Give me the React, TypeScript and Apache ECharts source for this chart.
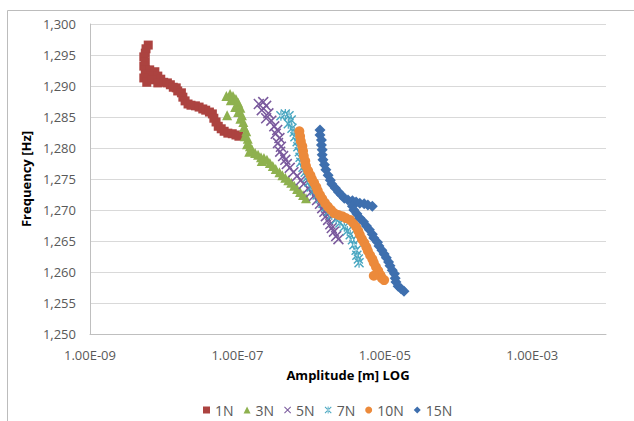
import React, { useEffect, useRef } from 'react';
import * as echarts from 'echarts';

const seriesNames = ['1N', '3N', '5N', '7N', '10N', '15N'];
const seriesColors = ['#AC4340', '#8EB14F', '#7A5A9D', '#48A6C0', '#EC8A3B', '#3E6FAE'];

// Amplitude values are stored as log10(amplitude [m]); frequency in Hz.
const amp1N = [-8.21,-8.24,-8.25,-8.27,-8.25,-8.27,-8.25,-8.19,-8.12,-8.24,-8.17,-8.08,-8.27,-8.23,-8.16,-8.04,-8.08,-8.00,-7.95,-7.91,-7.87,-7.83,-7.81,-7.76,-7.74,-7.71,-7.67,-7.63,-7.57,-7.52,-7.47,-7.43,-7.38,-7.34,-7.32,-7.29,-7.26,-7.22,-7.18,-7.13,-7.07,-7.02,-6.98];
const freq1N = [1.2966,1.2960,1.2953,1.2947,1.2939,1.2932,1.2926,1.2926,1.2923,1.2919,1.2916,1.2916,1.2913,1.2906,1.2910,1.2911,1.2905,1.2906,1.2905,1.2902,1.2898,1.2897,1.2892,1.2889,1.2882,1.2876,1.2871,1.2869,1.2868,1.2866,1.2863,1.2861,1.2858,1.2855,1.2848,1.2842,1.2835,1.2831,1.2827,1.2824,1.2823,1.2821,1.2819];

const amp3N = [-7.15,-7.10,-7.06,-7.02,-7.09,-6.99,-7.03,-6.96,-6.99,-6.94,-6.96,-6.92,-6.91,-6.88,-6.90,-6.86,-6.87,-6.83,-6.80,-6.84,-6.76,-6.72,-6.68,-6.64,-6.67,-6.60,-6.56,-6.52,-6.48,-6.43,-6.39,-6.35,-6.31,-6.27,-6.23,-6.19,-6.15,-6.11,-6.07,-7.14];
const freq3N = [1.2884,1.2887,1.2884,1.2879,1.2877,1.2873,1.2866,1.2865,1.2858,1.2853,1.2847,1.2842,1.2834,1.2827,1.2819,1.2815,1.2806,1.2803,1.2797,1.2794,1.2792,1.2789,1.2785,1.2784,1.2779,1.2781,1.2776,1.2771,1.2766,1.2761,1.2756,1.2752,1.2748,1.2744,1.2739,1.2734,1.2729,1.2724,1.2719,1.2853];

const amp5N = [-6.71,-6.65,-6.61,-6.67,-6.58,-6.61,-6.54,-6.50,-6.46,-6.48,-6.43,-6.45,-6.41,-6.42,-6.38,-6.35,-6.33,-6.29,-6.24,-6.19,-6.14,-6.10,-6.04,-6.00,-5.96,-5.92,-5.88,-5.85,-5.82,-5.80,-5.77,-5.74,-5.72,-5.69,-5.66,-5.63];
const freq5N = [1.2871,1.2874,1.2868,1.2861,1.2856,1.2848,1.2844,1.2835,1.2829,1.2823,1.2816,1.2808,1.2802,1.2794,1.2787,1.2781,1.2774,1.2768,1.2761,1.2755,1.2748,1.2742,1.2735,1.2729,1.2723,1.2716,1.2710,1.2703,1.2697,1.2690,1.2684,1.2677,1.2671,1.2665,1.2658,1.2653];

const amp7N = [-6.41,-6.35,-6.30,-6.27,-6.31,-6.26,-6.23,-6.22,-6.19,-6.18,-6.16,-6.15,-6.14,-6.11,-6.08,-6.05,-6.03,-6.00,-5.96,-5.92,-5.88,-5.84,-5.80,-5.76,-5.72,-5.66,-5.61,-5.55,-5.51,-5.47,-5.44,-5.42,-5.39,-5.38,-5.36,-5.35];
const freq7N = [1.2852,1.2855,1.2852,1.2845,1.2839,1.2832,1.2826,1.2818,1.2810,1.2802,1.2794,1.2785,1.2777,1.2769,1.2761,1.2753,1.2745,1.2737,1.2731,1.2724,1.2718,1.2711,1.2705,1.2698,1.2692,1.2685,1.2679,1.2673,1.2666,1.2660,1.2652,1.2644,1.2635,1.2627,1.2621,1.2615];

const amp10N = [-6.16,-6.15,-6.14,-6.12,-6.11,-6.10,-6.08,-6.07,-6.04,-6.01,-5.99,-5.96,-5.93,-5.91,-5.88,-5.85,-5.81,-5.77,-5.73,-5.69,-5.63,-5.58,-5.53,-5.47,-5.43,-5.39,-5.36,-5.34,-5.31,-5.28,-5.25,-5.23,-5.20,-5.17,-5.15,-5.12,-5.09,-5.06,-5.04,-5.01,-5.15];
const freq10N = [1.2827,1.2819,1.2811,1.2803,1.2795,1.2787,1.2779,1.2771,1.2763,1.2756,1.2750,1.2744,1.2737,1.2731,1.2724,1.2718,1.2711,1.2705,1.2700,1.2695,1.2692,1.2690,1.2687,1.2684,1.2679,1.2673,1.2666,1.2660,1.2653,1.2647,1.2640,1.2634,1.2627,1.2621,1.2615,1.2608,1.2602,1.2595,1.2590,1.2587,1.2594];

const amp15N = [-5.88,-5.88,-5.86,-5.86,-5.85,-5.85,-5.84,-5.82,-5.80,-5.77,-5.74,-5.72,-5.67,-5.63,-5.59,-5.55,-5.50,-5.44,-5.39,-5.34,-5.28,-5.23,-5.17,-5.44,-5.42,-5.38,-5.34,-5.29,-5.25,-5.21,-5.17,-5.15,-5.10,-5.08,-5.04,-5.01,-4.98,-4.95,-4.93,-4.90,-4.87,-4.86,-4.85,-4.82,-4.78,-4.74];
const freq15N = [1.2829,1.2821,1.2813,1.2805,1.2797,1.2789,1.2781,1.2773,1.2765,1.2756,1.2748,1.2742,1.2735,1.2729,1.2724,1.2719,1.2716,1.2715,1.2713,1.2711,1.2710,1.2708,1.2706,1.2706,1.2700,1.2694,1.2687,1.2681,1.2674,1.2668,1.2661,1.2655,1.2648,1.2642,1.2635,1.2629,1.2623,1.2616,1.2610,1.2603,1.2597,1.2590,1.2584,1.2577,1.2573,1.2569];

const ampSets = [amp1N, amp3N, amp5N, amp7N, amp10N, amp15N];
const freqSets = [freq1N, freq3N, freq5N, freq7N, freq10N, freq15N];

const X_PATH = 'path://M1,0L5,4L9,0L10,1L6,5L10,9L9,10L5,6L1,10L0,9L4,5L0,1Z';
const STAR_PATH = 'path://M1,0L5,4L9,0L10,1L6,5L10,9L9,10L5,6L1,10L0,9L4,5L0,1Z M4.4,0L4.4,10L5.6,10L5.6,0Z';
const symbols = ['rect', 'triangle', X_PATH, STAR_PATH, 'circle', 'diamond'];
const symbolSizes = [9, 10, 11, 10, 10, 11];

const FONT = '"Open Sans", "Noto Sans", sans-serif';

export default function App() {
  const ref = useRef<HTMLDivElement>(null);
  useEffect(() => {
    document.body.style.margin = '0';
    if (!ref.current) return;
    const chart = echarts.init(ref.current, null, { renderer: 'svg' });
    const series = seriesNames.map((name, i) => ({
      name,
      type: 'scatter',
      symbol: symbols[i],
      symbolSize: symbolSizes[i],
      itemStyle: { color: seriesColors[i], opacity: 1 },
      data: ampSets[i].map((a, k) => [Math.pow(10, a), freqSets[i][k]]),
    }));
    chart.setOption({
      animation: false,
      backgroundColor: '#ffffff',
      textStyle: { fontFamily: FONT },
      graphic: [
        {
          type: 'rect',
          silent: true,
          z: -10,
          shape: { x: 7.5, y: 10.5, width: 700, height: 500 },
          style: { fill: 'none', stroke: '#BCBCBC', lineWidth: 1 },
        },
      ],
      grid: { left: 90, right: 28, top: 24, bottom: 87, containLabel: false },
      legend: {
        data: seriesNames.map((name, i) => ({ name, itemStyle: { color: seriesColors[i] } })),
        left: 198,
        top: 398,
        itemWidth: 7,
        itemHeight: 7,
        itemGap: 10,
        textStyle: { fontFamily: FONT, fontSize: 14, color: '#595959' },
      },
      xAxis: {
        type: 'log',
        logBase: 10,
        min: 1e-9,
        max: 1e-2,
        name: 'Amplitude [m] LOG',
        nameLocation: 'middle',
        nameGap: 34,
        nameTextStyle: { fontFamily: FONT, fontSize: 13, fontWeight: 'bold', color: '#000' },
        axisLine: { show: true, lineStyle: { color: '#BFBFBF' } },
        axisTick: { show: false },
        splitLine: { show: false },
        axisLabel: {
          margin: 14,
          fontFamily: FONT,
          fontSize: 13,
          color: '#595959',
          showMinLabel: true,
          showMaxLabel: true,
          formatter: (v: number) => {
            const e = Math.round(Math.log10(v));
            if ((e + 9) % 2 !== 0) return '';
            return '1.00E' + (e < 0 ? '-' : '+') + String(Math.abs(e)).padStart(2, '0');
          },
        },
      },
      yAxis: {
        type: 'value',
        min: 1.25,
        max: 1.3,
        interval: 0.005,
        name: 'Frequency [Hz]',
        nameLocation: 'middle',
        nameGap: 54,
        nameTextStyle: { fontFamily: FONT, fontSize: 13, fontWeight: 'bold', color: '#000' },
        axisLine: { show: true, lineStyle: { color: '#BFBFBF' } },
        axisTick: { show: false },
        splitLine: { show: true, lineStyle: { color: '#D9D9D9' } },
        axisLabel: {
          margin: 14,
          fontFamily: FONT,
          fontSize: 13,
          color: '#595959',
          formatter: (v: number) => v.toFixed(3).replace('.', ','),
        },
      },
      series,
    });
    return () => chart.dispose();
  }, []);
  return <div ref={ref} style={{ width: 634, height: 421 }} />;
}
